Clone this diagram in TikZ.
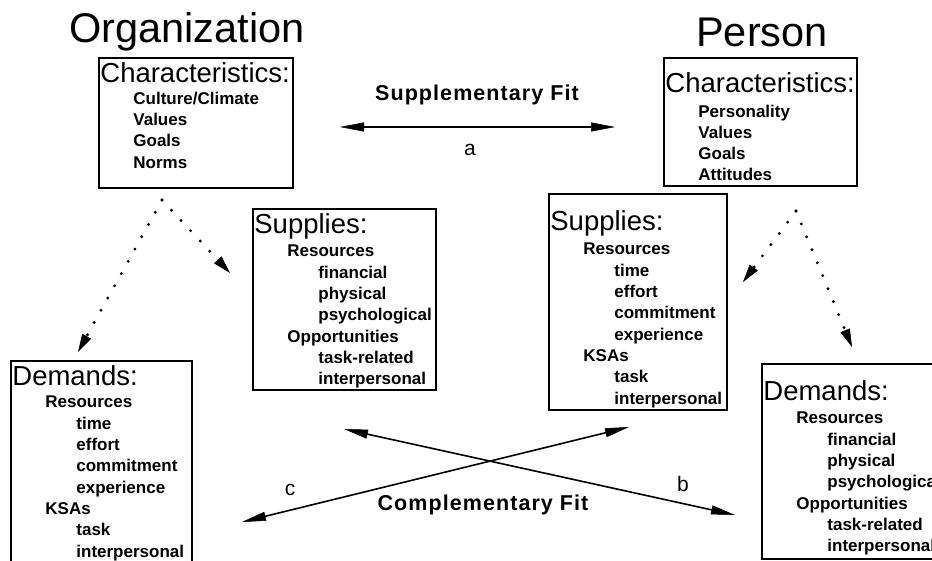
\documentclass[tikz,border=0pt]{standalone}
\usepackage{fontspec}
\setmainfont{Liberation Sans}
\newfontfamily\fitfamily{Liberation Sans}[LetterSpace=5]
\usetikzlibrary{arrows.meta,positioning}
\newcommand{\headfont}{\fontsize{27.5}{30}\selectfont\mdseries}
\newcommand{\itemfont}{\fontsize{17}{21.3}\selectfont\bfseries}
\newcommand{\titlefont}{\fontsize{41.5}{44}\selectfont}
\newcommand{\indA}{\hspace*{33pt}}
\newcommand{\indB}{\hspace*{64pt}}
\tikzset{
  fitbox/.style={
    rectangle, draw=black, line width=1.8pt, anchor=north west,
    inner xsep=1.5pt, inner ysep=0pt, align=left, font=\itemfont
  },
  titlelabel/.style={font=\titlefont, anchor=base, inner sep=0pt},
  fitlabel/.style={font=\fitfamily\bfseries\fontsize{21.5}{24}\selectfont,
    anchor=base, inner sep=0pt},
  letterlabel/.style={font=\fontsize{21}{24}\selectfont, anchor=base, inner sep=0pt},
  fitarrow/.style={
    {Triangle[length=24pt,width=9pt,line width=0.5pt]}-{Triangle[length=24pt,width=9pt,line width=0.5pt]},
    line width=1.6pt
  },
  linkarrow/.style={
    -{Triangle[length=18pt,width=10pt,line width=0.5pt]}, line width=3.2pt,
    line cap=round, dash pattern=on 0pt off 14pt
  },
}
\begin{document}
\begin{tikzpicture}[x=1pt, y=-1pt]
\useasboundingbox (0,0) rectangle (932,560);
\clip (0,0) rectangle (932,560);

% titles
\node[titlelabel] (orgtitle) at (187,42) {Organization};
\node[titlelabel] (pertitle) at (762,46) {Person};

% organization side
\node[fitbox, text width=191pt, text height=25pt, text depth=105pt] (orgchar) at (98,57)
  {{\headfont Characteristics:}\\
   \indA Culture/Climate\\
   \indA Values\\
   \indA Goals\\
   \indA Norms};
\node[fitbox, text width=180pt, text height=25pt, text depth=156pt] (orgsup) at (252,208)
  {{\headfont Supplies:}\\[1.7pt]
   \indA Resources\\
   \indB financial\\
   \indB physical\\
   \indB psychological\\
   \indA Opportunities\\
   \indB task-related\\
   \indB interpersonal};
\node[fitbox, text width=178pt, text height=25pt, text depth=200pt] (orgdem) at (10,360)
  {{\headfont Demands:}\\[0.7pt]
   \indA Resources\\
   \indB time\\
   \indB effort\\
   \indB commitment\\
   \indB experience\\
   \indA KSAs\\
   \indB task\\
   \indB interpersonal};

% person side
\node[fitbox, text width=190pt, text height=35pt, text depth=93pt] (perchar) at (663,57)
  {{\headfont Characteristics:}\\[3.7pt]
   \indA Personality\\[-0.3pt]
   \indA Values\\[-0.3pt]
   \indA Goals\\[-0.3pt]
   \indA Attitudes};
\node[fitbox, text width=175pt, text height=37pt, text depth=179pt] (persup) at (548,193)
  {{\headfont Supplies:}\\[2.7pt]
   \indA Resources\\
   \indB time\\
   \indB effort\\
   \indB commitment\\
   \indB experience\\
   \indA KSAs\\
   \indB task\\
   \indB interpersonal};
\node[fitbox, text width=180pt, text height=37pt, text depth=158pt] (perdem) at (761,363)
  {{\headfont Demands:}\\[1.7pt]
   \indA Resources\\
   \indB financial\\
   \indB physical\\
   \indB psychological\\
   \indA Opportunities\\
   \indB task-related\\
   \indB interpersonal};

% dotted links from characteristics
\coordinate (orgfork) at (162,200);
\coordinate (orgsupin) at (230,273);
\coordinate (orgdemin) at (78,352);
\coordinate (perfork) at (796,211);
\coordinate (persupin) at (743,282);
\coordinate (perdemin) at (852,347);
\draw[linkarrow] (orgfork) -- (orgsupin);
\draw[linkarrow] (orgfork) -- (orgdemin);
\draw[linkarrow] (perfork) -- (persupin);
\draw[linkarrow] (perfork) -- (perdemin);

% supplementary fit
\coordinate (suppL) at (340,127);
\coordinate (suppR) at (615,127);
\draw[fitarrow] (suppL) -- (suppR);
\node[fitlabel] (supplabel) at (477,100) {Supplementary Fit};
\node[letterlabel] (lbla) at (470,155) {a};

% complementary fit
\coordinate (compbL) at (344,429);
\coordinate (compbR) at (735,515);
\coordinate (compcL) at (242,522);
\coordinate (compcR) at (629,427);
\draw[fitarrow] (compbL) -- (compbR);
\draw[fitarrow] (compcL) -- (compcR);
\node[fitlabel] (complabel) at (483,510) {Complementary Fit};
\node[letterlabel] (lblc) at (290,495) {c};
\node[letterlabel] (lblb) at (683,491) {b};
\end{tikzpicture}
\end{document}
